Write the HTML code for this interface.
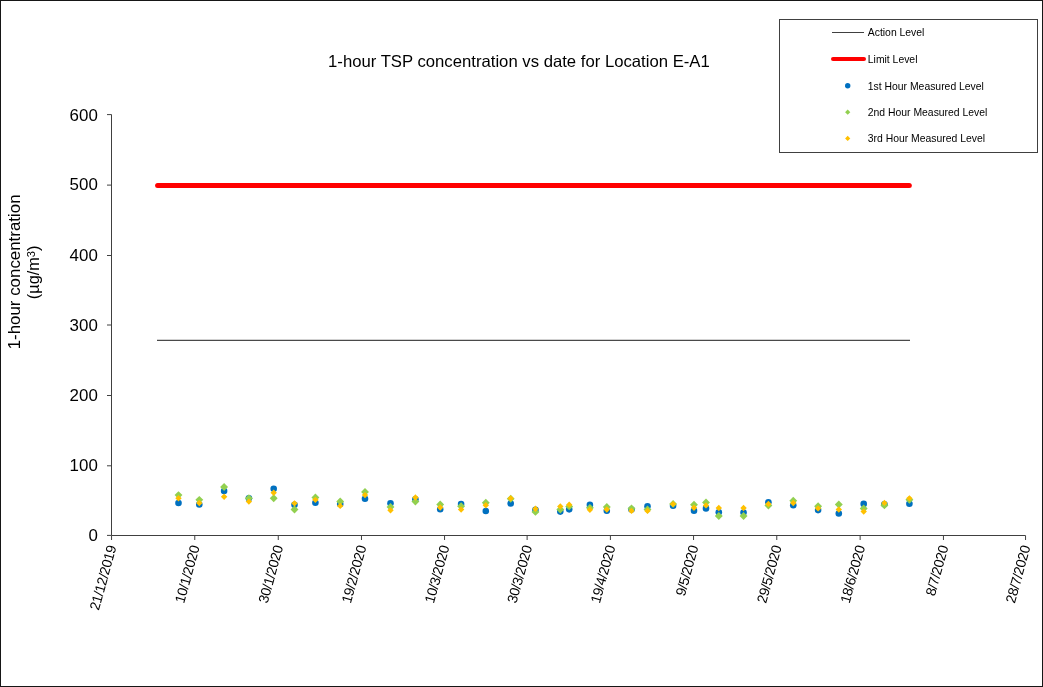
<!DOCTYPE html>
<html><head><meta charset="utf-8"><style>
html,body{margin:0;padding:0;background:#fff;}
svg{display:block;}
text{font-family:"Liberation Sans",Arial,sans-serif;fill:#000;}
</style></head><body>
<svg width="1043" height="687" viewBox="0 0 1043 687">
<rect x="0" y="0" width="1043" height="687" fill="#fff"/>
<rect x="0.5" y="0.5" width="1042" height="686" fill="none" stroke="#161616" stroke-width="1"/>
<text x="328.05" y="67" font-size="16.5" textLength="381.7" lengthAdjust="spacingAndGlyphs">1-hour TSP concentration vs date for Location E-A1</text>
<g font-size="16.9"><text x="97.8" y="541" text-anchor="end">0</text><text x="97.8" y="471" text-anchor="end">100</text><text x="97.8" y="401" text-anchor="end">200</text><text x="97.8" y="331" text-anchor="end">300</text><text x="97.8" y="261" text-anchor="end">400</text><text x="97.8" y="190" text-anchor="end">500</text><text x="97.8" y="121" text-anchor="end">600</text></g>
<g font-size="14.0"><text transform="translate(116.65 546.80) rotate(-74.5)" text-anchor="end" textLength="66.71">21/12/2019</text><text transform="translate(199.87 546.80) rotate(-74.5)" text-anchor="end" textLength="59.30">10/1/2020</text><text transform="translate(283.36 546.80) rotate(-74.5)" text-anchor="end" textLength="59.30">30/1/2020</text><text transform="translate(366.58 546.80) rotate(-74.5)" text-anchor="end" textLength="59.30">19/2/2020</text><text transform="translate(449.65 546.80) rotate(-74.5)" text-anchor="end" textLength="59.30">10/3/2020</text><text transform="translate(532.21 546.80) rotate(-74.5)" text-anchor="end" textLength="59.30">30/3/2020</text><text transform="translate(615.50 546.80) rotate(-74.5)" text-anchor="end" textLength="59.30">19/4/2020</text><text transform="translate(698.65 546.80) rotate(-74.5)" text-anchor="end" textLength="51.88">9/5/2020</text><text transform="translate(781.87 546.80) rotate(-74.5)" text-anchor="end" textLength="59.30">29/5/2020</text><text transform="translate(865.23 546.80) rotate(-74.5)" text-anchor="end" textLength="59.30">18/6/2020</text><text transform="translate(948.55 546.80) rotate(-74.5)" text-anchor="end" textLength="51.88">8/7/2020</text><text transform="translate(1030.65 546.80) rotate(-74.5)" text-anchor="end" textLength="59.30">28/7/2020</text></g>
<text transform="translate(20.06 271.9) rotate(-90)" text-anchor="middle" font-size="16.9">1-hour concentration</text>
<text transform="translate(38.5 272.4) rotate(-90)" text-anchor="middle" font-size="16.3">(µg/m<tspan font-size="11" dy="-4">3</tspan><tspan dy="4">)</tspan></text>
<path d="M111.5 114.5V535.5H1025.5" fill="none" stroke="#404040" stroke-width="1"/><path d="M107 114.6H111.5" stroke="#404040" stroke-width="1"/><path d="M107 185.1H111.5" stroke="#404040" stroke-width="1"/><path d="M107 255.5H111.5" stroke="#404040" stroke-width="1"/><path d="M107 325.0H111.5" stroke="#404040" stroke-width="1"/><path d="M107 395.5H111.5" stroke="#404040" stroke-width="1"/><path d="M107 465.8H111.5" stroke="#404040" stroke-width="1"/><path d="M107 535.4H111.5" stroke="#404040" stroke-width="1"/><path d="M111.55 535.5V540" stroke="#404040" stroke-width="1"/><path d="M194.77 535.5V540" stroke="#404040" stroke-width="1"/><path d="M278.26 535.5V540" stroke="#404040" stroke-width="1"/><path d="M361.48 535.5V540" stroke="#404040" stroke-width="1"/><path d="M444.55 535.5V540" stroke="#404040" stroke-width="1"/><path d="M527.11 535.5V540" stroke="#404040" stroke-width="1"/><path d="M610.40 535.5V540" stroke="#404040" stroke-width="1"/><path d="M693.55 535.5V540" stroke="#404040" stroke-width="1"/><path d="M776.77 535.5V540" stroke="#404040" stroke-width="1"/><path d="M860.13 535.5V540" stroke="#404040" stroke-width="1"/><path d="M943.45 535.5V540" stroke="#404040" stroke-width="1"/><path d="M1025.55 535.5V540" stroke="#404040" stroke-width="1"/>
<path d="M157.6 185.4H909.3" stroke="#FF0000" stroke-width="5" stroke-linecap="round"/>
<path d="M157 340.4H910" stroke="#4a4a4a" stroke-width="1.2"/>
<circle cx="178.5" cy="503.0" r="3.3" fill="#0070C0"/><circle cx="199.3" cy="504.5" r="3.3" fill="#0070C0"/><circle cx="224.1" cy="491.05" r="3.3" fill="#0070C0"/><circle cx="248.9" cy="498.2" r="3.3" fill="#0070C0"/><circle cx="273.7" cy="488.8" r="3.3" fill="#0070C0"/><circle cx="294.5" cy="504.7" r="3.3" fill="#0070C0"/><circle cx="315.4" cy="502.8" r="3.3" fill="#0070C0"/><circle cx="340.2" cy="504.0" r="3.3" fill="#0070C0"/><circle cx="365.0" cy="498.76" r="3.3" fill="#0070C0"/><circle cx="390.5" cy="503.24" r="3.3" fill="#0070C0"/><circle cx="415.4" cy="499.3" r="3.3" fill="#0070C0"/><circle cx="440.2" cy="509.3" r="3.3" fill="#0070C0"/><circle cx="461.1" cy="504.0" r="3.3" fill="#0070C0"/><circle cx="485.8" cy="511.0" r="3.3" fill="#0070C0"/><circle cx="510.7" cy="503.5" r="3.3" fill="#0070C0"/><circle cx="535.45" cy="509.9" r="3.3" fill="#0070C0"/><circle cx="560.3" cy="511.6" r="3.3" fill="#0070C0"/><circle cx="569.2" cy="509.33" r="3.3" fill="#0070C0"/><circle cx="589.9" cy="504.9" r="3.3" fill="#0070C0"/><circle cx="606.8" cy="510.77" r="3.3" fill="#0070C0"/><circle cx="631.5" cy="509.6" r="3.3" fill="#0070C0"/><circle cx="647.5" cy="506.3" r="3.3" fill="#0070C0"/><circle cx="673.1" cy="505.8" r="3.3" fill="#0070C0"/><circle cx="694.0" cy="510.66" r="3.3" fill="#0070C0"/><circle cx="706.0" cy="508.4" r="3.3" fill="#0070C0"/><circle cx="718.8" cy="512.26" r="3.3" fill="#0070C0"/><circle cx="743.55" cy="512.5" r="3.3" fill="#0070C0"/><circle cx="768.4" cy="502.2" r="3.3" fill="#0070C0"/><circle cx="793.26" cy="505.3" r="3.3" fill="#0070C0"/><circle cx="818.1" cy="510.1" r="3.3" fill="#0070C0"/><circle cx="838.8" cy="513.5" r="3.3" fill="#0070C0"/><circle cx="863.7" cy="503.9" r="3.3" fill="#0070C0"/><circle cx="884.4" cy="504.3" r="3.3" fill="#0070C0"/><circle cx="909.4" cy="503.8" r="3.3" fill="#0070C0"/><path d="M178.50 491.15L182.45 495.10L178.50 499.05L174.55 495.10Z" fill="#92D050"/><path d="M199.30 495.90L203.25 499.85L199.30 503.80L195.35 499.85Z" fill="#92D050"/><path d="M224.10 483.05L228.05 487.00L224.10 490.95L220.15 487.00Z" fill="#92D050"/><path d="M248.90 494.30L252.85 498.25L248.90 502.20L244.95 498.25Z" fill="#92D050"/><path d="M273.70 494.30L277.65 498.25L273.70 502.20L269.75 498.25Z" fill="#92D050"/><path d="M294.50 505.50L298.45 509.45L294.50 513.40L290.55 509.45Z" fill="#92D050"/><path d="M315.40 493.55L319.35 497.50L315.40 501.45L311.45 497.50Z" fill="#92D050"/><path d="M340.20 497.55L344.15 501.50L340.20 505.45L336.25 501.50Z" fill="#92D050"/><path d="M365.00 487.95L368.95 491.90L365.00 495.85L361.05 491.90Z" fill="#92D050"/><path d="M390.50 503.05L394.45 507.00L390.50 510.95L386.55 507.00Z" fill="#92D050"/><path d="M415.40 497.65L419.35 501.60L415.40 505.55L411.45 501.60Z" fill="#92D050"/><path d="M440.20 500.55L444.15 504.50L440.20 508.45L436.25 504.50Z" fill="#92D050"/><path d="M461.10 502.35L465.05 506.30L461.10 510.25L457.15 506.30Z" fill="#92D050"/><path d="M485.80 498.85L489.75 502.80L485.80 506.75L481.85 502.80Z" fill="#92D050"/><path d="M510.70 494.75L514.65 498.70L510.70 502.65L506.75 498.70Z" fill="#92D050"/><path d="M535.45 507.95L539.40 511.90L535.45 515.85L531.50 511.90Z" fill="#92D050"/><path d="M560.30 505.50L564.25 509.45L560.30 513.40L556.35 509.45Z" fill="#92D050"/><path d="M569.20 502.45L573.15 506.40L569.20 510.35L565.25 506.40Z" fill="#92D050"/><path d="M589.90 503.89L593.85 507.84L589.90 511.79L585.95 507.84Z" fill="#92D050"/><path d="M606.80 503.02L610.75 506.97L606.80 510.92L602.85 506.97Z" fill="#92D050"/><path d="M631.50 504.55L635.45 508.50L631.50 512.45L627.55 508.50Z" fill="#92D050"/><path d="M647.50 505.50L651.45 509.45L647.50 513.40L643.55 509.45Z" fill="#92D050"/><path d="M673.10 499.95L677.05 503.90L673.10 507.85L669.15 503.90Z" fill="#92D050"/><path d="M694.00 500.75L697.95 504.70L694.00 508.65L690.05 504.70Z" fill="#92D050"/><path d="M706.00 498.45L709.95 502.40L706.00 506.35L702.05 502.40Z" fill="#92D050"/><path d="M718.80 512.05L722.75 516.00L718.80 519.95L714.85 516.00Z" fill="#92D050"/><path d="M743.55 512.05L747.50 516.00L743.55 519.95L739.60 516.00Z" fill="#92D050"/><path d="M768.40 501.65L772.35 505.60L768.40 509.55L764.45 505.60Z" fill="#92D050"/><path d="M793.26 496.70L797.21 500.65L793.26 504.60L789.31 500.65Z" fill="#92D050"/><path d="M818.10 502.25L822.05 506.20L818.10 510.15L814.15 506.20Z" fill="#92D050"/><path d="M838.80 500.55L842.75 504.50L838.80 508.45L834.85 504.50Z" fill="#92D050"/><path d="M863.70 504.55L867.65 508.50L863.70 512.45L859.75 508.50Z" fill="#92D050"/><path d="M884.40 501.25L888.35 505.20L884.40 509.15L880.45 505.20Z" fill="#92D050"/><path d="M909.40 495.85L913.35 499.80L909.40 503.75L905.45 499.80Z" fill="#92D050"/><path d="M178.50 495.10L181.70 498.30L178.50 501.50L175.30 498.30Z" fill="#FFC000"/><path d="M199.30 499.80L202.50 503.00L199.30 506.20L196.10 503.00Z" fill="#FFC000"/><path d="M224.10 493.50L227.30 496.70L224.10 499.90L220.90 496.70Z" fill="#FFC000"/><path d="M248.90 498.40L252.10 501.60L248.90 504.80L245.70 501.60Z" fill="#FFC000"/><path d="M273.70 489.50L276.90 492.70L273.70 495.90L270.50 492.70Z" fill="#FFC000"/><path d="M294.50 500.15L297.70 503.35L294.50 506.55L291.30 503.35Z" fill="#FFC000"/><path d="M315.40 496.65L318.60 499.85L315.40 503.05L312.20 499.85Z" fill="#FFC000"/><path d="M340.20 502.70L343.40 505.90L340.20 509.10L337.00 505.90Z" fill="#FFC000"/><path d="M365.00 491.90L368.20 495.10L365.00 498.30L361.80 495.10Z" fill="#FFC000"/><path d="M390.50 507.00L393.70 510.20L390.50 513.40L387.30 510.20Z" fill="#FFC000"/><path d="M415.40 494.30L418.60 497.50L415.40 500.70L412.20 497.50Z" fill="#FFC000"/><path d="M440.20 504.35L443.40 507.55L440.20 510.75L437.00 507.55Z" fill="#FFC000"/><path d="M461.10 506.25L464.30 509.45L461.10 512.65L457.90 509.45Z" fill="#FFC000"/><path d="M485.80 502.05L489.00 505.25L485.80 508.45L482.60 505.25Z" fill="#FFC000"/><path d="M510.70 495.15L513.90 498.35L510.70 501.55L507.50 498.35Z" fill="#FFC000"/><path d="M535.45 505.50L538.65 508.70L535.45 511.90L532.25 508.70Z" fill="#FFC000"/><path d="M560.30 503.20L563.50 506.40L560.30 509.60L557.10 506.40Z" fill="#FFC000"/><path d="M569.20 501.60L572.40 504.80L569.20 508.00L566.00 504.80Z" fill="#FFC000"/><path d="M589.90 506.50L593.10 509.70L589.90 512.90L586.70 509.70Z" fill="#FFC000"/><path d="M606.80 506.36L610.00 509.56L606.80 512.76L603.60 509.56Z" fill="#FFC000"/><path d="M631.50 507.70L634.70 510.90L631.50 514.10L628.30 510.90Z" fill="#FFC000"/><path d="M647.50 507.70L650.70 510.90L647.50 514.10L644.30 510.90Z" fill="#FFC000"/><path d="M673.10 500.90L676.30 504.10L673.10 507.30L669.90 504.10Z" fill="#FFC000"/><path d="M694.00 504.50L697.20 507.70L694.00 510.90L690.80 507.70Z" fill="#FFC000"/><path d="M706.00 502.20L709.20 505.40L706.00 508.60L702.80 505.40Z" fill="#FFC000"/><path d="M718.80 504.86L722.00 508.06L718.80 511.26L715.60 508.06Z" fill="#FFC000"/><path d="M743.55 504.86L746.75 508.06L743.55 511.26L740.35 508.06Z" fill="#FFC000"/><path d="M768.40 500.80L771.60 504.00L768.40 507.20L765.20 504.00Z" fill="#FFC000"/><path d="M793.26 499.75L796.46 502.95L793.26 506.15L790.06 502.95Z" fill="#FFC000"/><path d="M818.10 505.20L821.30 508.40L818.10 511.60L814.90 508.40Z" fill="#FFC000"/><path d="M838.80 506.25L842.00 509.45L838.80 512.65L835.60 509.45Z" fill="#FFC000"/><path d="M863.70 508.40L866.90 511.60L863.70 514.80L860.50 511.60Z" fill="#FFC000"/><path d="M884.40 499.70L887.60 502.90L884.40 506.10L881.20 502.90Z" fill="#FFC000"/><path d="M909.40 495.16L912.60 498.36L909.40 501.56L906.20 498.36Z" fill="#FFC000"/>
<rect x="779.5" y="19.5" width="258" height="133" fill="#fff" stroke="#404040" stroke-width="1"/>
<path d="M832 32.5H864" stroke="#404040" stroke-width="1"/>
<path d="M833 59H864" stroke="#FF0000" stroke-width="4" stroke-linecap="round"/>
<circle cx="847.7" cy="85.8" r="2.7" fill="#0070C0"/>
<path d="M847.70 109.60L850.30 112.20L847.70 114.80L845.10 112.20Z" fill="#92D050"/>
<path d="M847.70 135.80L850.30 138.40L847.70 141.00L845.10 138.40Z" fill="#FFC000"/>
<g font-size="10.4">
<text x="867.8" y="35.8">Action Level</text>
<text x="867.8" y="62.8">Limit Level</text>
<text x="867.8" y="89.6">1st Hour Measured Level</text>
<text x="867.8" y="116">2nd Hour Measured Level</text>
<text x="867.8" y="142.2">3rd Hour Measured Level</text>
</g>
</svg>
</body></html>
